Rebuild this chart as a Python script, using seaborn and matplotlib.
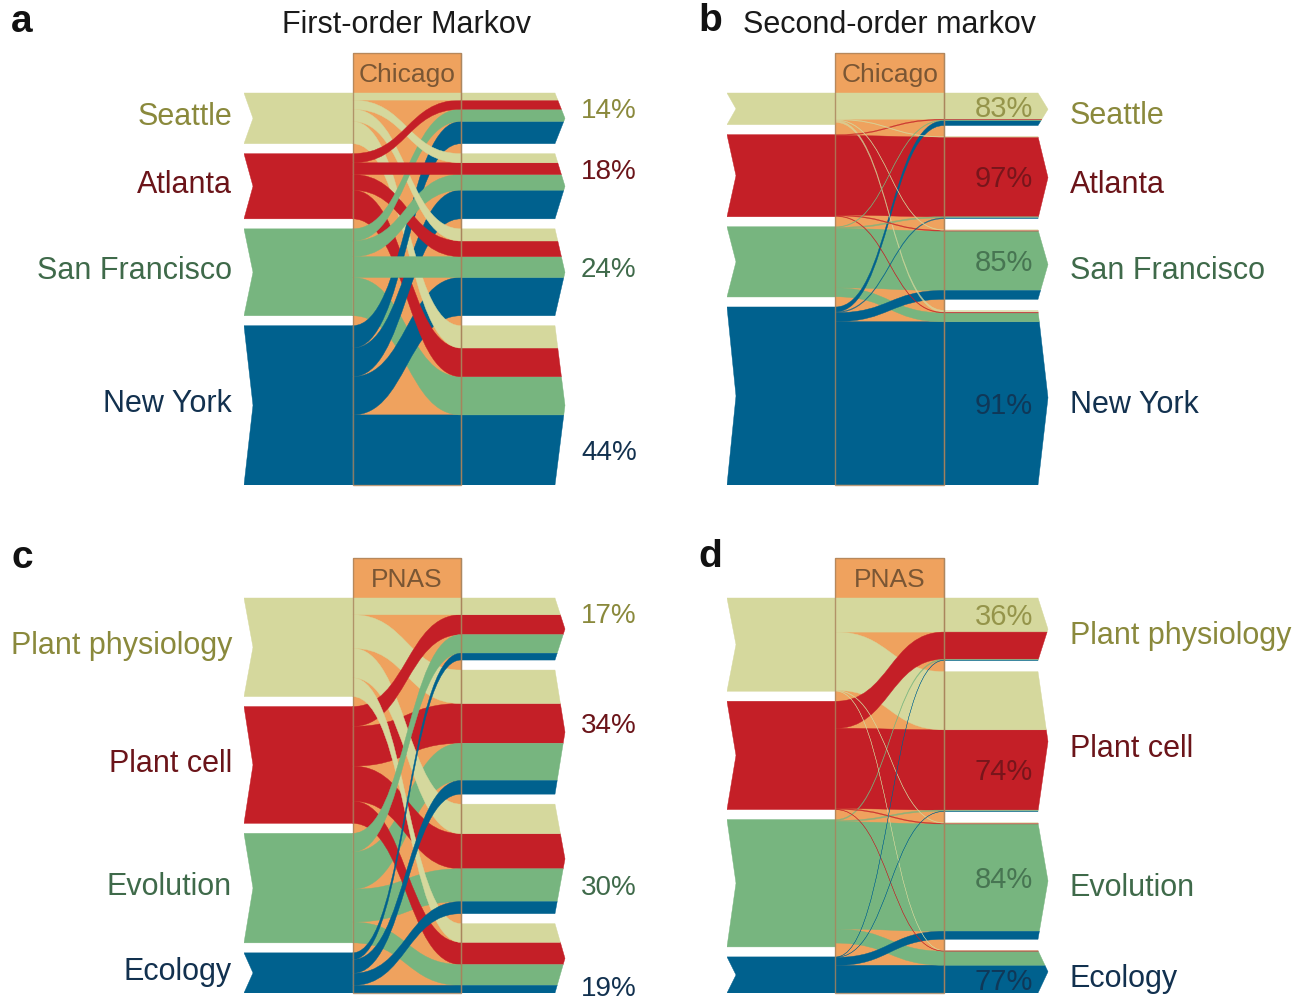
import numpy as np
import matplotlib
matplotlib.use('Agg')
import matplotlib.pyplot as plt
import seaborn as sns
from matplotlib.patches import Polygon, PathPatch, Rectangle
from matplotlib.path import Path

sns.set_theme(style='white')
plt.rcParams['font.family'] = ['Liberation Sans', 'DejaVu Sans']

cities   = ['Seattle', 'Atlanta', 'San Francisco', 'New York']
journals = ['Plant physiology', 'Plant cell', 'Evolution', 'Ecology']

# a: first-order Markov, share of flow into / out of Chicago (%)
a_in  = [14, 18, 24, 44]
a_out = [14, 18, 24, 44]

# b: second-order, flow through Chicago (rows: came from, cols: goes to)
b_in   = [32, 83, 71, 180]
b_flow = [[26.5, 0.6, 0.6, 2.0],
          [0.8, 80.5, 0.8, 0.6],
          [0.6, 1.2, 60.0, 9.0],
          [5.0, 0.8, 9.0, 165.0]]
b_return = [83, 97, 85, 91]

# c: first-order, flow into / out of PNAS (%)
c_in  = [27, 32, 30, 11]
c_out = [17, 34, 30, 19]

# d: second-order, flow through PNAS
d_in   = [93, 108, 127, 36]
d_flow = [[34.0, 58.0, 0.5, 0.4],
          [27.0, 80.0, 0.8, 0.3],
          [1.0, 1.2, 107.0, 14.0],
          [0.3, 0.2, 8.0, 27.7]]
d_return = [36, 74, 84, 77]

band_colors = ['#D5D89D', '#C41F27', '#77B57F', '#00618E']
text_colors = ['#8A893C', '#6B1419', '#3F6A4A', '#12314F']
hub_color   = '#EFA25E'
line_color  = '#A9825B'

W, H    = 1293, 1000
UNIT    = 108.5
GAP_PX  = 10
HEAD_PX = 40
NOTCH   = 9 / UNIT
BODY    = 2 + 94 / UNIT
TIP     = 2 + 104 / UNIT


def arrow_band(y0, y1, g0, g1):
    mid  = (g0 + g1) / 2
    half = (g1 - g0) / 2
    xe   = lambda y: BODY + (TIP - BODY) * (1 - abs(y - mid) / half)
    pts  = [(2, y0), (xe(y0), y0)]
    if y0 < mid < y1:
        pts.append((TIP, mid))
    pts += [(xe(y1), y1), (2, y1)]
    return pts


def ribbon(a0, a1, c0, c1):
    verts = [(1, a0), (1.5, a0), (1.5, c0), (2, c0), (2, c1),
             (1.5, c1), (1.5, a1), (1, a1), (1, a0)]
    codes = [Path.MOVETO, Path.CURVE4, Path.CURVE4, Path.CURVE4, Path.LINETO,
             Path.CURVE4, Path.CURVE4, Path.CURVE4, Path.CLOSEPOLY]
    return Path(verts, codes)


def draw_panel(fig, x_px, top_px, bot_px, names, inflow, flow, pct, hub,
               title, letter, letter_xy, second):
    inflow = np.asarray(inflow, float)
    flow   = np.asarray(flow, float)
    total  = inflow.sum()
    k      = (bot_px - top_px - 3 * GAP_PX) / total   # px per flow unit
    gap    = GAP_PX / k
    head   = HEAD_PX / k
    span   = total + 3 * gap

    ax = fig.add_axes([x_px / W, 1 - bot_px / H, 3 * UNIT / W,
                       (bot_px - top_px + HEAD_PX) / H])
    ax.set_xlim(0, 3)
    ax.set_ylim(span, -head)
    ax.axis('off')

    def cap_text(x, y, s, size, **kw):
        # centre the capital letters on y
        ax.text(x, y + 0.358 * size * 100 / 72 / k, s, fontsize=size,
                va='baseline', **kw)

    out   = flow.sum(axis=0)
    r_gap = (span - out.sum()) / 3
    l_top = np.concatenate([[0], np.cumsum(inflow)[:-1]]) + np.arange(4) * gap
    r_top = np.concatenate([[0], np.cumsum(out)[:-1]]) + np.arange(4) * r_gap

    # hub box
    ax.add_patch(Rectangle((1, -head), 1, span + head, facecolor=hub_color,
                           edgecolor='none', zorder=1))

    # ribbons
    bands = []
    for s in range(4):
        for d in range(4):
            f = flow[s, d]
            a0 = l_top[s] + flow[s, :d].sum()
            c0 = r_top[d] + flow[:s, d].sum()
            bands.append((f, s, d, a0, c0))
    bands.sort(key=lambda b: -b[0])
    for f, s, d, a0, c0 in bands:
        alpha = 1.0 if f * k > 2.5 else 0.75
        ax.add_patch(PathPatch(ribbon(a0, a0 + f, c0, c0 + f),
                               facecolor=band_colors[s], edgecolor=band_colors[s],
                               lw=0.3, alpha=alpha, zorder=2))
        g0, g1 = r_top[d], r_top[d] + out[d]
        ax.add_patch(Polygon(arrow_band(c0, c0 + f, g0, g1), closed=True,
                             facecolor=band_colors[s], edgecolor=band_colors[s],
                             lw=0.3, alpha=alpha, zorder=3))

    # source blocks
    for s in range(4):
        y0, y1 = l_top[s], l_top[s] + inflow[s]
        ax.add_patch(Polygon([(0, y0), (1, y0), (1, y1), (0, y1),
                              (NOTCH, (y0 + y1) / 2)], closed=True,
                             facecolor=band_colors[s], edgecolor=band_colors[s],
                             lw=0.3, zorder=3))

    # hub outline
    ax.add_patch(Rectangle((1, -head), 1, span + head, facecolor='none',
                           edgecolor=line_color, lw=1.0, alpha=0.8, zorder=5,
                           clip_on=False))
    ax.plot([2, 2], [-head, span], color=line_color, lw=0.9, alpha=0.8, zorder=5)
    cap_text(1.5, -head / 2, hub, 19, ha='center', color='#7A5634', zorder=6)
    if title:
        cap_text(1.5, (22 - top_px) / k, title, 22, ha='center', color='#1a1a1a')
    fig.text(letter_xy[0] / W, 1 - letter_xy[1] / H, letter, fontsize=28,
             fontweight='bold', ha='center', va='center', color='#111111')

    for i in range(4):
        ret0 = r_top[i] + flow[:i, i].sum()
        if not second:
            yc = l_top[i] + inflow[i] / 2 - 4 / k
            cap_text(-12 / UNIT, yc, names[i], 22, ha='right', color=text_colors[i])
            yp = max(ret0 + flow[i, i] / 2, r_top[i] + 15 / k)
            yp = min(yp, span - 7 / k)
            cap_text(TIP + 16 / UNIT, yp, f'{pct[i]}%', 20, ha='left',
                     color=text_colors[i])
        else:
            yc = r_top[i] + out[i] / 2 + 4 / k
            cap_text(TIP + 22 / UNIT, yc, names[i], 22, ha='left',
                     color=text_colors[i])
            cap_text(BODY - 5 / UNIT, ret0 + flow[i, i] / 2, f'{pct[i]}%', 21,
                     ha='right', color=text_colors[i], alpha=0.85, zorder=6)


def first_order(inflow, outflow):
    inflow  = np.asarray(inflow, float)
    outflow = np.asarray(outflow, float)
    return np.outer(inflow, outflow) / outflow.sum()


fig = plt.figure(figsize=(W / 100, H / 100), dpi=100)
fig.patch.set_facecolor('white')

draw_panel(fig, 244, 93, 485, cities, a_in, first_order(a_in, a_out), a_out,
           'Chicago', 'First-order Markov', 'a', (22, 22), False)
draw_panel(fig, 727, 93, 485, cities, b_in, b_flow, b_return,
           'Chicago', 'Second-order markov', 'b', (710, 21), True)
draw_panel(fig, 244, 598, 993, journals, c_in, first_order(c_in, c_out), c_out,
           'PNAS', None, 'c', (22, 558), False)
draw_panel(fig, 727, 598, 993, journals, d_in, d_flow, d_return,
           'PNAS', None, 'd', (710, 557), True)

fig.savefig('out.png', dpi=100, facecolor='white')
